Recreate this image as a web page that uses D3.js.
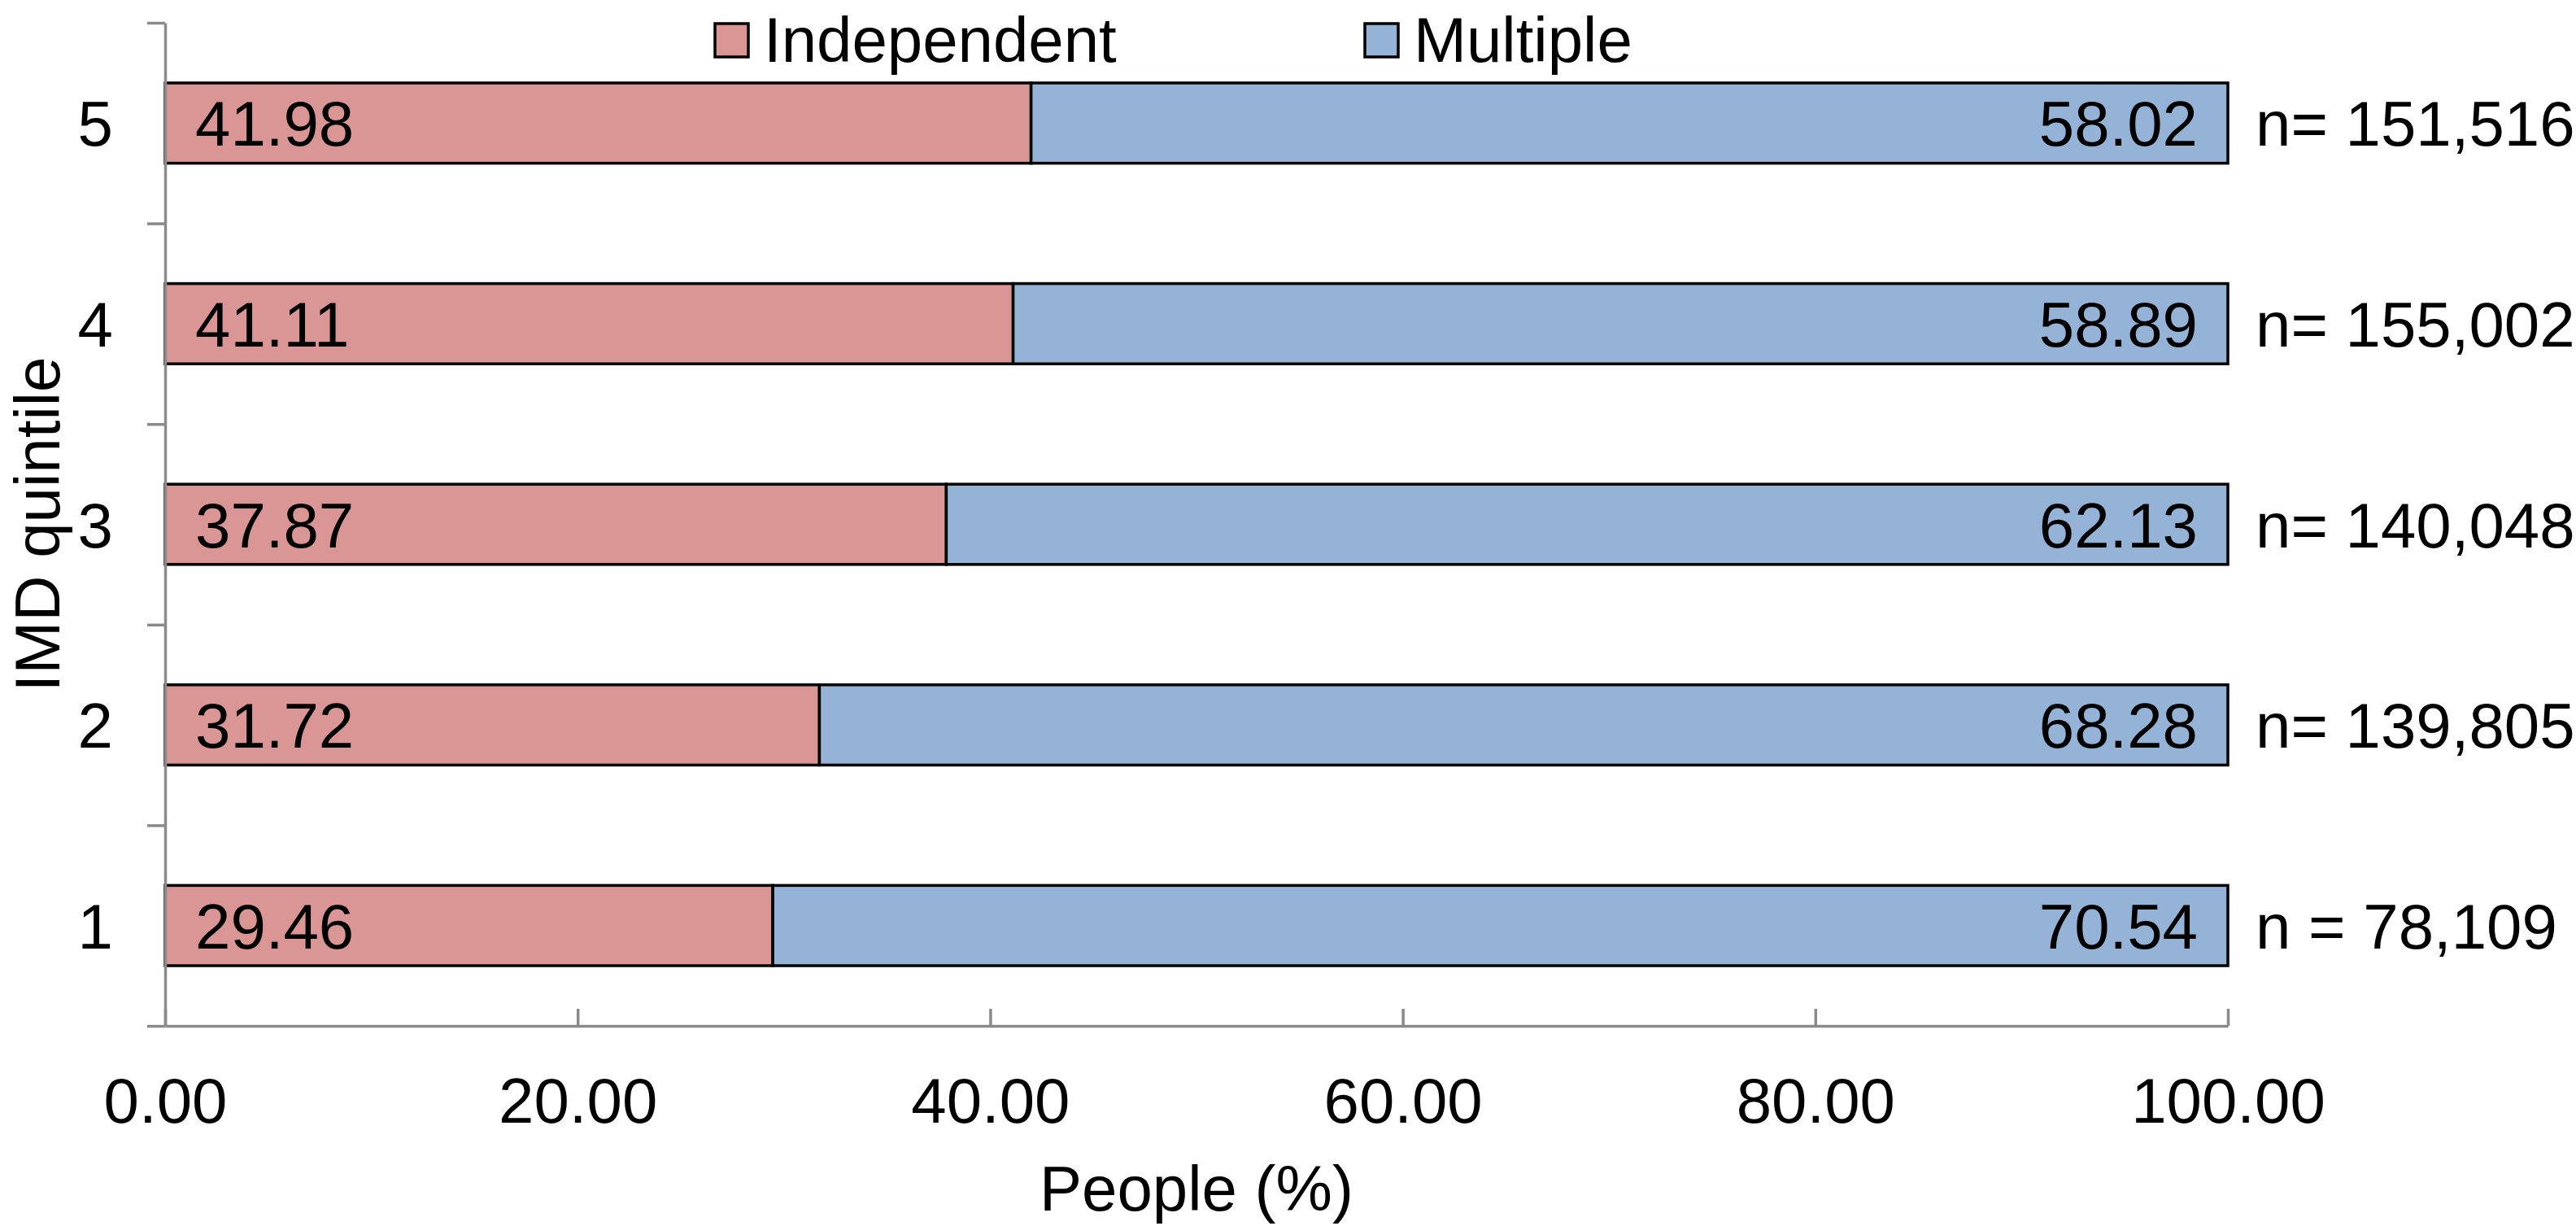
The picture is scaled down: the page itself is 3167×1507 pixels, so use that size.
<!DOCTYPE html>
<html>
<head>
<meta charset="utf-8">
<script src="https://cdn.jsdelivr.net/npm/d3@7"></script>
<style>
  html, body { margin: 0; padding: 0; background: #fff; }
  svg { display: block; }
  text { font-family: "Liberation Sans", Arial, sans-serif; fill: #000; }
</style>
</head>
<body>
<svg id="chart" width="3167" height="1507"></svg>
<script>
const categories = ["5", "4", "3", "2", "1"];
const independent = [41.98, 41.11, 37.87, 31.72, 29.46];
const multiple = [58.02, 58.89, 62.13, 68.28, 70.54];
const nLabels = ["n= 151,516", "n= 155,002", "n= 140,048", "n= 139,805", "n = 78,109"];
const xTicks = [0, 20, 40, 60, 80, 100];
const seriesNames = ["Independent", "Multiple"];
const seriesColors = ["#d99694", "#95b3d7"];

(function () {
const svg = d3.select("#chart");
const FS = 78;
const mLeft = 203, mRight = 2739, mTop = 28, mBottom = 1261;
const axisColor = "#8a8a8a";

const x = d3.scaleLinear().domain([0, 100]).range([mLeft, mRight]);
const y = d3.scaleBand().domain(categories).range([mTop, mBottom]).paddingInner(0.6).paddingOuter(0.3);
const yb = d3.scaleLinear().domain([0, categories.length]).range([mTop, mBottom]);

// Bars
const rows = categories.map((c, i) => ({ c, ind: independent[i], mul: multiple[i], n: nLabels[i] }));
const g = svg.append("g");
g.selectAll("rect.ind").data(rows).join("rect").attr("class", "ind")
  .attr("x", d => x(0)).attr("y", d => y(d.c))
  .attr("width", d => x(d.ind) - x(0)).attr("height", y.bandwidth())
  .attr("fill", seriesColors[0]).attr("stroke", "#000").attr("stroke-width", 3.5);
g.selectAll("rect.mul").data(rows).join("rect").attr("class", "mul")
  .attr("x", d => x(d.ind)).attr("y", d => y(d.c))
  .attr("width", d => x(d.ind + d.mul) - x(d.ind)).attr("height", y.bandwidth())
  .attr("fill", seriesColors[1]).attr("stroke", "#000").attr("stroke-width", 3.5);

// Value labels
const cy = d => y(d.c) + y.bandwidth() / 2 + 28;
g.selectAll("text.vi").data(rows).join("text").attr("class", "vi")
  .attr("x", x(0) + 37).attr("y", cy).attr("font-size", FS)
  .text(d => d.ind.toFixed(2));
g.selectAll("text.vm").data(rows).join("text").attr("class", "vm")
  .attr("x", x(100) - 37).attr("y", cy).attr("font-size", FS).attr("text-anchor", "end")
  .text(d => d.mul.toFixed(2));
g.selectAll("text.n").data(rows).join("text").attr("class", "n")
  .attr("x", x(100) + 34).attr("y", cy).attr("font-size", FS)
  .text(d => d.n);

// Y axis (ticks at category boundaries)
const yAxis = svg.append("g").attr("transform", `translate(${mLeft},0)`)
  .call(d3.axisLeft(yb).tickValues(d3.range(0, categories.length + 1)).tickSizeInner(22).tickSizeOuter(0).tickFormat(""));
yAxis.selectAll("path, line").attr("stroke", axisColor).attr("stroke-width", 3.5);

// Category labels
svg.append("g").selectAll("text").data(categories).join("text")
  .attr("x", 139).attr("y", d => y(d) + y.bandwidth() / 2 + 28)
  .attr("text-anchor", "end").attr("font-size", FS).text(d => d);

// X axis
const xAxis = svg.append("g").attr("transform", `translate(0,${mBottom})`)
  .call(d3.axisBottom(x).tickValues(xTicks).tickSizeInner(-21).tickSizeOuter(0).tickFormat(d => d.toFixed(2)));
xAxis.selectAll("path, line").attr("stroke", axisColor).attr("stroke-width", 3.5);
xAxis.selectAll("text").attr("y", 119).attr("dy", 0).attr("font-size", FS)
  .attr("font-family", '"Liberation Sans", Arial, sans-serif').attr("fill", "#000");

// Axis titles
svg.append("text").attr("x", (mLeft + mRight) / 2).attr("y", 1488)
  .attr("text-anchor", "middle").attr("font-size", FS).text("People (%)");
svg.append("text").attr("transform", `translate(73,${(mTop + mBottom) / 2}) rotate(-90)`)
  .attr("text-anchor", "middle").attr("font-size", FS).text("IMD quintile");

// Legend
const legendX = [879, 1678];
const lg = svg.append("g");
seriesNames.forEach((s, i) => {
  lg.append("rect").attr("x", legendX[i]).attr("y", 29).attr("width", 41).attr("height", 41)
    .attr("fill", seriesColors[i]).attr("stroke", "#000").attr("stroke-width", 3.5);
  lg.append("text").attr("x", legendX[i] + 60).attr("y", 76).attr("font-size", FS).text(s);
});
})();
</script>
</body>
</html>
